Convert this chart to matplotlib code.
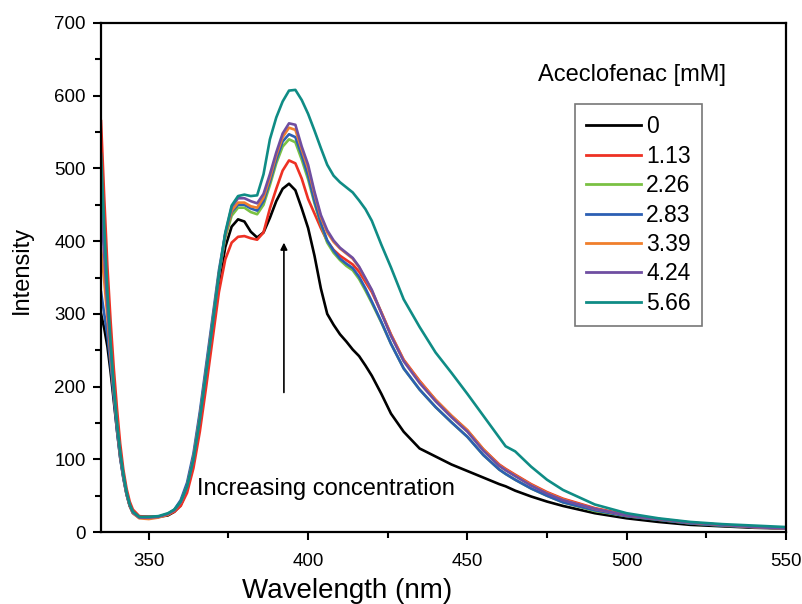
import matplotlib
matplotlib.use("Agg")
import matplotlib.pyplot as plt
from matplotlib.ticker import MultipleLocator

plt.rcParams['font.family'] = ['Liberation Sans', 'DejaVu Sans']

wavelength = [335, 336, 337, 338, 339, 340, 341, 342, 343, 344, 345, 347, 350, 353, 356, 358,
              360, 362, 364, 366, 368, 370, 372, 374, 376, 378, 380, 382, 384, 386, 388, 390,
              392, 394, 396, 398, 400, 402, 404, 406, 408, 410, 412, 414, 416, 418, 420, 423,
              426, 430, 435, 440, 445, 450, 455, 460, 462, 465, 470, 475, 480, 490, 500, 510,
              520, 530, 540, 550]

conc_labels = ["0", "1.13", "2.26", "2.83", "3.39", "4.24", "5.66"]

i_0 = [300, 280, 255, 220, 180, 140, 103, 75, 52, 36, 27, 21, 21, 21, 23, 28,
       37, 58, 95, 148, 210, 275, 340, 392, 420, 430, 427, 413, 405, 412, 432, 455,
       472, 479, 470, 445, 418, 380, 335, 300, 285, 272, 262, 251, 242, 229, 215, 190,
       163, 138, 115, 104, 93, 84, 75, 66, 63, 57, 49, 42, 36, 26, 19, 14,
       10, 8, 6, 5]
i_113 = [565, 460, 365, 290, 225, 170, 122, 86, 60, 42, 31, 22, 21, 21, 24, 28,
         36, 54, 88, 138, 200, 265, 330, 375, 398, 406, 407, 404, 402, 412, 445, 472,
         497, 511, 507, 486, 458, 438, 418, 400, 388, 380, 374, 368, 358, 344, 330, 302,
         272, 237, 208, 182, 160, 140, 114, 93, 87, 79, 66, 55, 46, 33, 24, 18,
         13, 10, 7, 5]
i_226 = [470, 390, 318, 255, 198, 150, 108, 78, 54, 37, 27, 20, 20, 21, 25, 30,
         42, 64, 103, 160, 224, 290, 355, 405, 435, 446, 446, 440, 437, 450, 477, 507,
         530, 540, 536, 512, 485, 452, 423, 398, 384, 374, 366, 360, 348, 332, 315, 288,
         259, 225, 196, 172, 151, 131, 106, 86, 80, 72, 60, 50, 41, 29, 22, 17,
         12, 9, 7, 5]
i_283 = [330, 300, 270, 230, 185, 140, 102, 74, 52, 36, 26, 20, 20, 21, 25, 31,
         44, 68, 108, 165, 230, 295, 360, 410, 440, 450, 450, 445, 442, 455, 482, 512,
         537, 547, 543, 518, 490, 455, 425, 401, 387, 376, 369, 363, 351, 335, 317, 289,
         259, 225, 196, 172, 151, 131, 106, 86, 80, 72, 60, 50, 41, 30, 22, 17,
         12, 9, 7, 5]
i_339 = [390, 345, 295, 242, 192, 146, 106, 77, 53, 36, 26, 19, 18, 20, 24, 30,
         41, 63, 102, 158, 222, 288, 355, 408, 442, 453, 453, 448, 446, 460, 487, 518,
         543, 556, 553, 526, 500, 465, 433, 412, 399, 390, 383, 376, 364, 348, 332, 302,
         271, 236, 207, 182, 160, 140, 114, 92, 86, 78, 65, 54, 45, 32, 23, 18,
         13, 10, 7, 5]
i_424 = [450, 380, 310, 250, 195, 148, 108, 78, 54, 37, 27, 20, 20, 21, 25, 30,
         41, 62, 100, 155, 220, 285, 353, 410, 447, 459, 459, 455, 452, 465, 492, 522,
         548, 562, 560, 530, 505, 468, 436, 415, 401, 391, 384, 377, 365, 349, 333, 301,
         270, 235, 205, 180, 158, 138, 112, 91, 85, 77, 64, 53, 44, 32, 23, 18,
         13, 10, 7, 5]
i_566 = [520, 420, 330, 260, 200, 150, 110, 80, 55, 38, 28, 21, 21, 22, 26, 31,
         42, 63, 100, 155, 220, 285, 355, 412, 449, 462, 464, 462, 463, 492, 540, 570,
         592, 607, 608, 594, 575, 552, 528, 505, 490, 481, 474, 467, 456, 444, 428, 395,
         364, 320, 282, 247, 219, 190, 160, 130, 118, 111, 90, 72, 58, 38, 26, 19,
         14, 11, 9, 7]

series = [i_0, i_113, i_226, i_283, i_339, i_424, i_566]
colors = ["#000000", "#ee3124", "#7ac143", "#2c5fb3", "#f07f2c", "#6f4ea1", "#0f8c85"]

fig = plt.figure(figsize=(8.02, 6.04), dpi=100)
ax = fig.add_axes([0.126, 0.119, 0.854, 0.843])

handles = []
for ys, c, lab in zip(series, colors, conc_labels):
    h, = ax.plot(wavelength, ys, color=c, lw=1.9, label=lab, solid_joinstyle='round')
    handles.append(h)

ax.set_xlim(335, 550)
ax.set_ylim(0, 700)
ax.xaxis.set_major_locator(MultipleLocator(50))
ax.xaxis.set_minor_locator(MultipleLocator(25))
ax.yaxis.set_major_locator(MultipleLocator(100))
ax.yaxis.set_minor_locator(MultipleLocator(50))
ax.tick_params(which='both', direction='out', top=False, right=False, width=1.5,
               labelsize=13.5, pad=5)
ax.tick_params(axis='x', which='major', pad=9)
ax.tick_params(which='major', length=6)
ax.tick_params(which='minor', length=4)
for s in ax.spines.values():
    s.set_linewidth(1.6)

ax.set_xlabel("Wavelength (nm)", fontsize=20)
ax.xaxis.set_label_coords(0.36, -0.09)
ax.set_ylabel("Intensity", fontsize=17)
ax.yaxis.set_label_coords(-0.099, 0.515)

ax.annotate("", xy=(392.4, 398), xytext=(392.4, 192),
            arrowprops=dict(arrowstyle="-|>", color="black", lw=1.2,
                            mutation_scale=10, shrinkA=0, shrinkB=0))
ax.text(365.1, 59, "Increasing concentration", fontsize=17, va='center', ha='left')

fig.text(0.788, 0.876, "Aceclofenac [mM]", fontsize=17, ha='center', va='center')
leg = ax.legend(handles=handles, loc='upper left', bbox_to_anchor=(0.717, 0.828),
                bbox_transform=fig.transFigure, fontsize=16.5, frameon=True,
                fancybox=False, edgecolor='#555555', handlelength=2.4,
                handletextpad=0.2, labelspacing=0.28, borderpad=0.5,
                borderaxespad=0)
leg.get_frame().set_linewidth(1.2)
for l in leg.get_lines():
    l.set_linewidth(2.0)

fig.savefig("out.png", dpi=100)
